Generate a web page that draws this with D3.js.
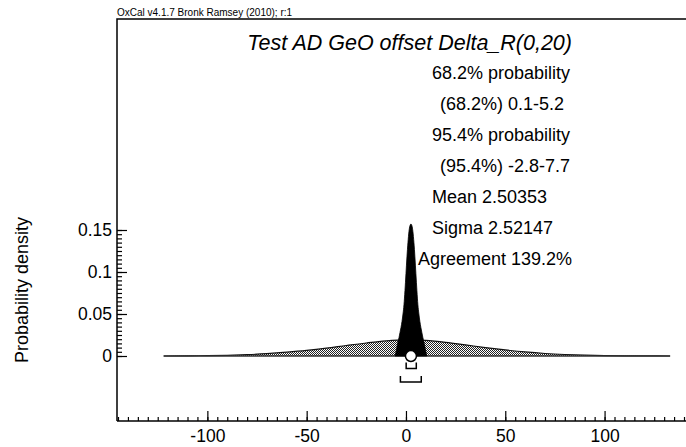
<!DOCTYPE html>
<html>
<head>
<meta charset="utf-8">
<script src="https://cdnjs.cloudflare.com/ajax/libs/d3/7.8.5/d3.min.js"></script>
<style>
  html, body { margin: 0; padding: 0; background: #fff; }
  svg { display: block; font-family: Arial, "Liberation Sans", sans-serif; }
</style>
</head>
<body>
<svg id="chart" width="686" height="447"></svg>
<script>
// Prior distribution Delta_R(0,20): offset value and probability density
const priorX = [-122, -110, -100, -90, -80, -70, -60, -50, -40, -30, -20, -10, 0, 10, 20, 30, 40, 50, 60, 70, 80, 90, 100, 110, 120, 133];
const priorY = [0, 0.0002, 0.0004, 0.0008, 0.0016, 0.0028, 0.0045, 0.0066, 0.0093, 0.0125, 0.0155, 0.018, 0.0192, 0.0185, 0.0163, 0.0132, 0.01, 0.0072, 0.0048, 0.003, 0.0018, 0.001, 0.0005, 0.0002, 0.0001, 0];

// Posterior distribution
const postX = [-5.5, -5, -4.5, -4, -3.5, -3, -2.5, -2, -1.5, -1, -0.5, 0, 0.5, 1, 1.5, 2, 2.5, 3, 3.5, 4, 4.5, 5, 5.5, 6, 6.5, 7, 7.5, 8, 8.5, 9, 9.5, 10, 10.5];
const postY = [0, 0.005, 0.011, 0.017, 0.022, 0.028, 0.034, 0.041, 0.05, 0.061, 0.078, 0.098, 0.118, 0.135, 0.148, 0.155, 0.157, 0.155, 0.148, 0.135, 0.118, 0.098, 0.078, 0.061, 0.05, 0.041, 0.034, 0.028, 0.022, 0.017, 0.011, 0.005, 0];

// Summary statistics
const range68 = [0.1, 5.2];
const range95 = [-2.8, 7.7];
const meanValue = [2.50353];

// Axis ticks
const xMajorTicks = [-100, -50, 0, 50, 100];
const xTickLabels = ["-100", "-50", "0", "50", "100"];
const yMajorTicks = [0, 0.05, 0.1, 0.15];
const yTickLabels = ["0", "0.05", "0.1", "0.15"];

// Text
const headerText = "OxCal v4.1.7 Bronk Ramsey (2010); r:1";
const titleText = "Test AD GeO offset Delta_R(0,20)";
const infoLines = [
  "68.2% probability",
  "(68.2%) 0.1-5.2",
  "95.4% probability",
  "(95.4%) -2.8-7.7",
  "Mean 2.50353",
  "Sigma 2.52147",
  "Agreement 139.2%"
];
const yAxisTitle = "Probability density";

const svg = d3.select("#chart");

const frame = { left: 117, top: 19, right: 690, bottom: 421 };

const x = d3.scaleLinear().domain([-145.5, 141]).range([frame.left, 686]);
const y = d3.scaleLinear().domain([0, 0.15]).range([356, 230]);

// Stipple pattern for the prior
const defs = svg.append("defs");
const pat = defs.append("pattern")
  .attr("id", "stipple")
  .attr("width", 2).attr("height", 2)
  .attr("patternUnits", "userSpaceOnUse");
pat.append("rect").attr("width", 2).attr("height", 2).attr("fill", "#fff");
pat.append("rect").attr("x", 0).attr("y", 0).attr("width", 1).attr("height", 1).attr("fill", "#222");
pat.append("rect").attr("x", 1).attr("y", 1).attr("width", 1).attr("height", 1).attr("fill", "#222");

// Header
svg.append("text")
  .attr("x", frame.left).attr("y", 16)
  .attr("font-size", 10)
  .attr("fill", "#000")
  .text(headerText);

// Frame lines (top and left)
svg.append("path")
  .attr("d", `M${frame.right},${frame.top}H${frame.left}V${frame.bottom}`)
  .attr("fill", "none").attr("stroke", "#000").attr("stroke-width", 1.5);

// Prior area
const priorData = priorX.map((v, i) => [v, priorY[i]]);
const area = d3.area().x(d => x(d[0])).y0(y(0)).y1(d => y(d[1])).curve(d3.curveMonotoneX);
const line = d3.line().x(d => x(d[0])).y(d => y(d[1])).curve(d3.curveMonotoneX);

svg.append("path").datum(priorData)
  .attr("d", area)
  .attr("fill", "url(#stipple)");
svg.append("path").datum(priorData)
  .attr("d", line)
  .attr("fill", "none").attr("stroke", "#111").attr("stroke-width", 1.2);
svg.append("line")
  .attr("x1", x(priorX[0])).attr("x2", x(priorX[priorX.length - 1]))
  .attr("y1", y(0)).attr("y2", y(0))
  .attr("stroke", "#333").attr("stroke-width", 1.5);

// Posterior area
const postData = postX.map((v, i) => [v, postY[i]]);
svg.append("path").datum(postData)
  .attr("d", area)
  .attr("fill", "#000").attr("stroke", "#000").attr("stroke-width", 0.8);

// Mean marker
svg.append("circle")
  .attr("cx", x(meanValue[0])).attr("cy", y(0))
  .attr("r", 5.5)
  .attr("fill", "#fff").attr("stroke", "#000").attr("stroke-width", 1.5);

// Range brackets
function bracket(r, yPix, h) {
  svg.append("path")
    .attr("d", `M${x(r[0])},${yPix - h}V${yPix}H${x(r[1])}V${yPix - h}`)
    .attr("fill", "none").attr("stroke", "#000").attr("stroke-width", 1.5);
}
bracket(range68, 368.5, 6);
bracket(range95, 382, 6);

// X axis: minor ticks, then major ticks with labels
const xMinor = d3.range(-145, 142, 5);
svg.append("g").attr("transform", `translate(0,${frame.bottom})`)
  .call(d3.axisBottom(x).tickValues(xMinor).tickSize(-4).tickFormat(""))
  .call(g => g.select(".domain").remove());
const xAxisG = svg.append("g").attr("transform", `translate(0,${frame.bottom})`)
  .call(d3.axisBottom(x).tickValues(xMajorTicks).tickSize(-10).tickPadding(9)
    .tickFormat((d, i) => xTickLabels[i]));
xAxisG.select(".domain").remove();
xAxisG.append("line").attr("x1", frame.left).attr("x2", frame.right)
  .attr("stroke", "#000").attr("stroke-width", 1.5);
svg.selectAll(".tick line").attr("stroke", "#000").attr("stroke-width", 1.2);

// Y axis: minor ticks, then major ticks with labels
const yMinor = d3.range(0, 0.1501, 0.005);
svg.append("g").attr("transform", `translate(${frame.left},0)`)
  .call(d3.axisLeft(y).tickValues(yMinor).tickSize(-5).tickFormat(""))
  .call(g => g.select(".domain").remove());
const yAxisG = svg.append("g").attr("transform", `translate(${frame.left},0)`)
  .call(d3.axisLeft(y).tickValues(yMajorTicks).tickSize(-10).tickPadding(5)
    .tickFormat((d, i) => yTickLabels[i]));
yAxisG.select(".domain").remove();
svg.selectAll(".tick line").attr("stroke", "#000").attr("stroke-width", 1.2);

svg.selectAll(".tick text")
  .attr("font-size", 17.5).attr("fill", "#000").attr("font-family", null);

// Y axis title
svg.append("text")
  .attr("transform", "translate(28,290) rotate(-90)")
  .attr("text-anchor", "middle")
  .attr("font-size", 18)
  .attr("fill", "#000")
  .text(yAxisTitle);

// Title
svg.append("text")
  .attr("x", 572).attr("y", 50)
  .attr("text-anchor", "end")
  .attr("font-size", 21.5)
  .attr("font-style", "italic")
  .attr("fill", "#000")
  .text(titleText);

// Statistics text
const infoX = [432, 440, 432, 440, 432, 432, 418];
svg.selectAll("text.info").data(infoLines).enter().append("text")
  .attr("class", "info")
  .attr("x", (d, i) => infoX[i])
  .attr("y", (d, i) => 78.5 + i * 31)
  .attr("font-size", 18)
  .attr("fill", "#000")
  .text(d => d);
</script>
</body>
</html>
